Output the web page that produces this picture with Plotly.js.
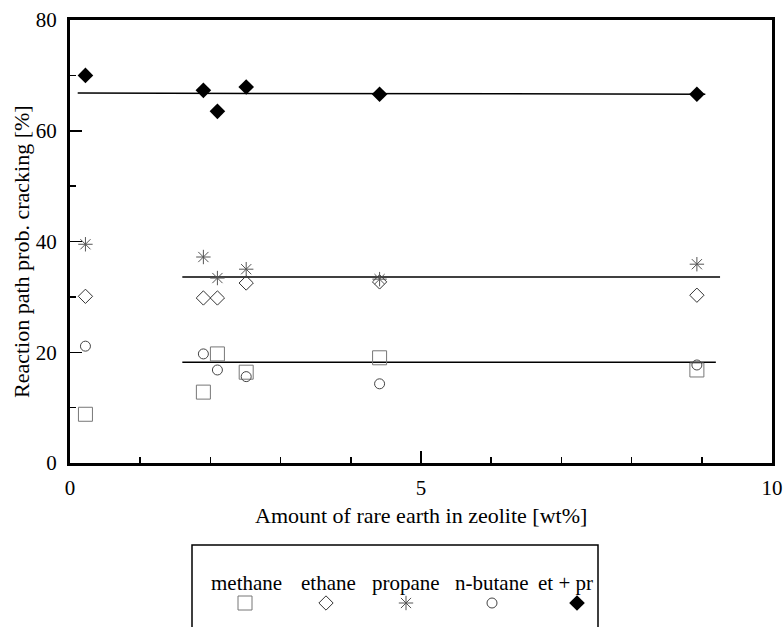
<!DOCTYPE html>
<html>
<head>
<meta charset="utf-8">
<script src="https://cdn.plot.ly/plotly-3.0.1.min.js"></script>
<style>html,body{margin:0;padding:0;background:#fff;}#chart{width:784px;height:627px;}</style>
</head>
<body>
<div id="chart"></div>
<script>
// ---- data ----
const rareEarth = [0.22, 1.90, 2.10, 2.51, 4.41, 8.93];   // wt%
const methane  = [8.8, 12.8, 19.7, 16.4, 19.0, 16.8];
const ethane   = [30.1, 29.8, 29.8, 32.5, 32.7, 30.3];
const propane  = [39.5, 37.2, 33.4, 35.0, 33.2, 35.9];
const nButane  = [21.1, 19.7, 16.8, 15.6, 14.3, 17.7];
const etPr     = [70.0, 67.3, 63.5, 67.9, 66.6, 66.6];

// fitted horizontal lines
const fitEtPrX = [0.11, 9.05], fitEtPrY = [66.8, 66.6];
const fitC2C3X = [1.60, 9.26], fitC2C3Y = [33.6, 33.6];
const fitC1C4X = [1.60, 9.20], fitC1C4Y = [18.2, 18.2];

const seriesNames = ['methane', 'ethane', 'propane', 'n-butane', 'et + pr'];
const xTickVals = [0, 5, 10];
const yTickVals = [0, 20, 40, 60, 80];
const xTitle = 'Amount of rare earth in zeolite [wt%]';
const yTitle = 'Reaction path prob. cracking [%]';

// ---- styles / layout positions (not data) ----
const FONT = 'Liberation Serif, Times New Roman, serif';
const markerStyles = [
  {symbol: 'square-open',   size: 14, color: '#777', line: {width: 1, color: '#777'}},
  {symbol: 'diamond-open',  size: 11, color: '#333', line: {width: 1, color: '#333'}},
  {symbol: 'asterisk-open', size: 12, color: '#555', line: {width: 1, color: '#555'}},
  {symbol: 'circle-open',   size: 10, color: '#444', line: {width: 1, color: '#444'}},
  {symbol: 'diamond',       size: 12, color: '#000', line: {width: 0, color: '#000'}}
];
const seriesY = [methane, ethane, propane, nButane, etPr];
const legendTextPx = [246, 328, 406, 491, 565];
const legendSymPx  = [245, 326, 406, 492, 577];

const traces = [];
const fits = [[fitEtPrX, fitEtPrY], [fitC2C3X, fitC2C3Y], [fitC1C4X, fitC1C4Y]];
fits.forEach(f => traces.push({
  x: f[0], y: f[1], type: 'scatter', mode: 'lines',
  line: {color: '#000', width: 1.5}, showlegend: false, hoverinfo: 'skip'
}));
seriesY.forEach((ys, i) => traces.push({
  x: rareEarth, y: ys, type: 'scatter', mode: 'markers', name: seriesNames[i],
  marker: markerStyles[i], showlegend: false, cliponaxis: false
}));
// custom legend symbols (below the plot, on an overlay axis in pixel units)
seriesNames.forEach((n, i) => traces.push({
  x: [legendSymPx[i]], y: [603], xaxis: 'x2', yaxis: 'y2', type: 'scatter', mode: 'markers',
  marker: markerStyles[i], showlegend: false, hoverinfo: 'skip', cliponaxis: false
}));

const W = 784, H = 627;
const L = 70, R = 772, T = 20, B = 463;

const annotations = seriesNames.map((n, i) => ({
  x: legendTextPx[i], y: 583, xref: 'x2', yref: 'y2', text: n, showarrow: false,
  font: {family: FONT, size: 21, color: '#000'}, xanchor: 'center', yanchor: 'middle'
}));
annotations.push({
  x: 21, y: 252, xref: 'x2', yref: 'y2', text: yTitle, textangle: -90, showarrow: false,
  font: {family: FONT, size: 22, color: '#000'}, xanchor: 'center', yanchor: 'middle'
});
annotations.push({
  x: 421, y: 515, xref: 'x2', yref: 'y2', text: xTitle, showarrow: false,
  font: {family: FONT, size: 22, color: '#000'}, xanchor: 'center', yanchor: 'middle'
});

const layout = {
  width: W, height: H,
  margin: {l: 0, r: 0, t: 0, b: 0, pad: 0},
  paper_bgcolor: '#fff', plot_bgcolor: 'rgba(0,0,0,0)',
  showlegend: false,
  font: {family: FONT, size: 21, color: '#000'},
  xaxis: {
    domain: [L / W, R / W], range: [0, 10], anchor: 'y',
    tickvals: xTickVals, ticktext: xTickVals.map(String),
    ticks: 'inside', ticklen: 12, tickwidth: 1.5, tickcolor: '#000',
    minor: {dtick: 1, ticks: 'inside', ticklen: 6, tickwidth: 1.5, tickcolor: '#000', showgrid: false},
    showline: true, linewidth: 3, linecolor: '#000', mirror: true,
    showgrid: false, zeroline: false,
    ticklabelstandoff: 4,
    tickfont: {family: FONT, size: 21, color: '#000'}
  },
  yaxis: {
    domain: [(H - B) / H, (H - T) / H], range: [0, 80], anchor: 'x',
    tickvals: yTickVals, ticktext: yTickVals.map(String),
    ticks: 'inside', ticklen: 12, tickwidth: 1.5, tickcolor: '#000',
    minor: {dtick: 10, ticks: 'inside', ticklen: 6, tickwidth: 1.5, tickcolor: '#000', showgrid: false},
    showline: true, linewidth: 3, linecolor: '#000', mirror: true,
    showgrid: false, zeroline: false,
    ticklabelstandoff: 6,
    tickfont: {family: FONT, size: 21, color: '#000'}
  },
  xaxis2: {domain: [0, 1], range: [0, W], visible: false, fixedrange: true, anchor: 'y2'},
  yaxis2: {domain: [0, 1], range: [H, 0], visible: false, fixedrange: true, anchor: 'x2'},
  shapes: [{
    type: 'rect', xref: 'x2', yref: 'y2', x0: 192, x1: 598, y0: 545, y1: 660,
    line: {color: '#000', width: 1.5}, fillcolor: 'rgba(0,0,0,0)', layer: 'above'
  }],
  annotations: annotations
};

Plotly.newPlot('chart', traces, layout, {staticPlot: true, displayModeBar: false});
</script>
</body>
</html>
